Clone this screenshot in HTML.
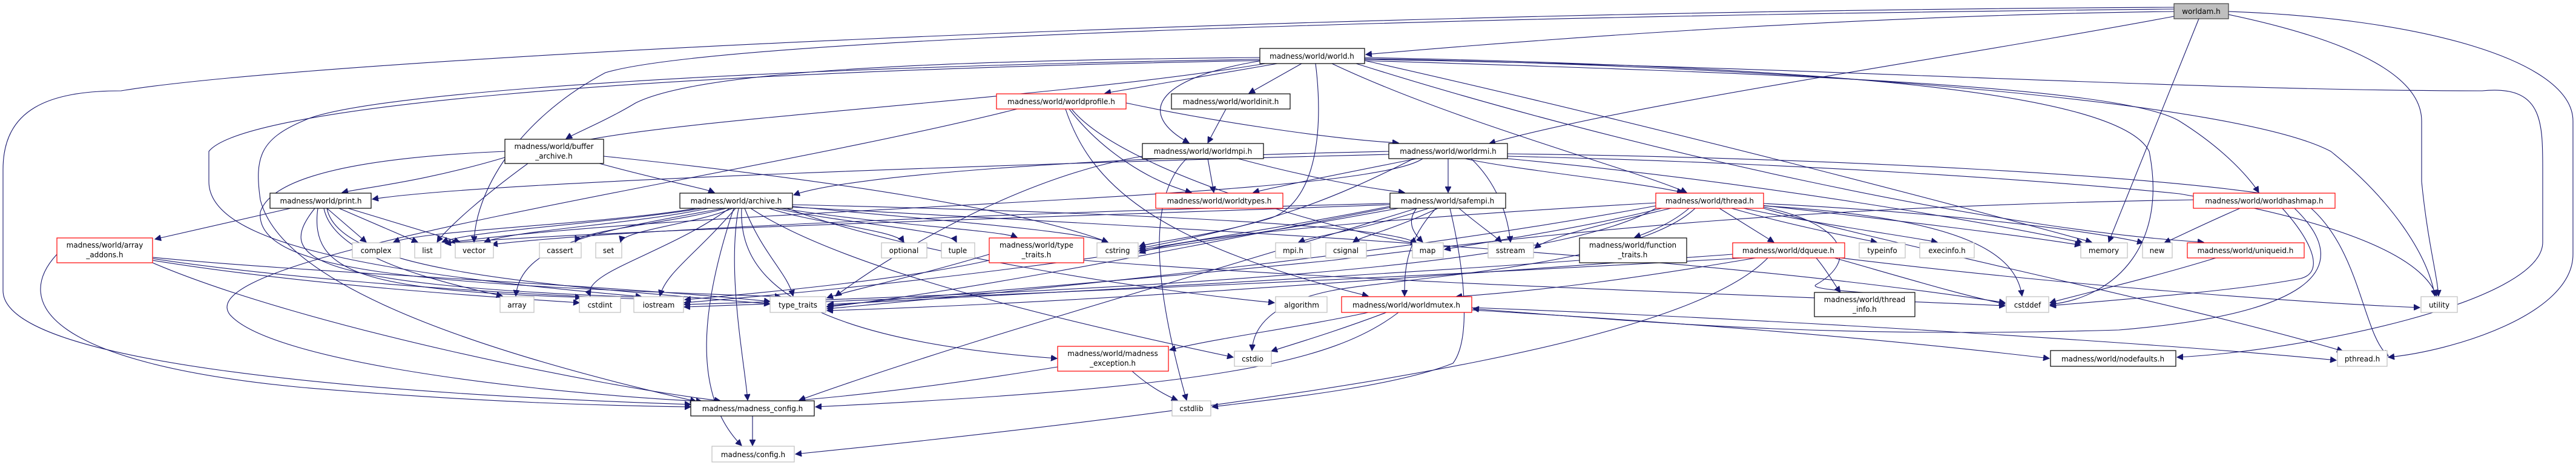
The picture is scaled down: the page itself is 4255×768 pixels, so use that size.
<!DOCTYPE html>
<html><head><meta charset="utf-8">
<style>
html,body{margin:0;padding:0;background:#fff;}
svg{display:block;}
text{font-family:"DejaVu Sans","Liberation Sans",sans-serif;font-size:12px;fill:#000;text-anchor:middle;}
.e path{fill:none;stroke:#191970;stroke-width:1.1;}
.b{fill:#fff;stroke:#000;stroke-width:1.2}
.r{fill:#fff;stroke:#ff0000;stroke-width:1.2}
.g{fill:#fff;stroke:#bfbfbf;stroke-width:1.2}
</style></head><body>
<svg width="4255" height="768" viewBox="0 0 4255 768" xmlns="http://www.w3.org/2000/svg">
<defs><marker id="a" markerUnits="userSpaceOnUse" markerWidth="11" markerHeight="10" refX="10" refY="5" orient="auto"><path d="M0,0 L10,5 L0,10 z" fill="#191970" stroke="#191970"/></marker></defs>
<g class="e" marker-end="url(#a)">
<!-- worldam -->
<path d="M3591,19 C3100,25 2600,60 2256,90"/>
<path d="M3591,27 C3200,100 2700,170 2460,237"/>
<path d="M3632,31 L3483,400"/>
<path d="M3681,24 C3900,70 4000,130 4000,200 L4000,300 C4010,400 4025,450 4028,489"/>
<path d="M3681,19 C4000,30 4250,100 4250,200 L4250,420 C4250,520 4050,580 3945,590"/>
<path d="M3591,15 C2500,25 1200,60 1000,120 C850,200 785,320 783,400"/>
<path d="M3591,12 C2000,20 500,100 200,150 C80,150 5,180 5,280 L5,480 C5,600 600,650 1141,668"/>
<!-- world -->
<path d="M2110,105 L1825,154"/>
<path d="M2150,105 L2063,154"/>
<path d="M2085,100 C1900,130 1880,190 1964,236"/>
<path d="M2200,105 C2400,200 2700,280 2786,318"/>
<path d="M2250,100 C2900,120 3500,140 3600,200 C3680,250 3720,300 3731,318"/>
<path d="M2173,105 C2185,200 2180,330 2100,360 C2000,390 1900,400 1882,407"/>
<path d="M2081,95 C1500,100 1150,120 1050,170 C1000,200 950,220 935,229"/>
<path d="M2081,100 C1000,120 400,180 345,250 L345,300 C345,400 600,450 1060,490"/>
<path d="M2090,105 C1700,170 1000,200 900,250 C800,320 735,380 722,400"/>
<path d="M2081,98 C1300,110 600,150 500,200 C430,230 420,260 430,330 C460,450 700,560 1150,663"/>
<path d="M2254,95 C3000,110 3500,150 3550,250 C3580,400 3500,490 3386,503"/>
<path d="M2254,97 C3000,110 3700,170 3850,250 C3950,330 4010,420 4022,489"/>
<path d="M2254,98 C3000,110 3600,150 4100,150 C4200,140 4200,200 4200,280 L4200,400 C4200,500 3800,580 3596,590"/>
<path d="M2254,100 C2700,200 3200,330 3455,400"/>
<path d="M2240,105 C2700,250 3300,380 3640,400"/>
<!-- profile -->
<path d="M1860,170 C2000,200 2200,230 2310,236"/>
<path d="M1766,180 C1820,250 1900,300 1968,318"/>
<path d="M1760,180 C1800,300 1900,400 2260,489"/>
<path d="M1680,180 C1200,300 300,420 380,520 C450,600 900,650 1160,663"/>
<path d="M1770,180 C1850,280 2200,380 2340,402"/>
<!-- init, mpi -->
<path d="M2025,180 L1995,236"/>
<path d="M1995,262 L2005,318"/>
<path d="M2045,262 C2150,290 2250,310 2320,318"/>
<path d="M1960,262 C1900,320 1900,450 1960,661"/>
<path d="M1887,258 C1700,290 1500,400 1380,489"/>
<!-- rmi -->
<path d="M2392,262 L2392,318"/>
<path d="M2340,262 C2200,290 2100,310 2070,318"/>
<path d="M2420,262 C2500,280 2700,300 2780,318"/>
<path d="M2294,250 C1800,260 1400,290 1311,322"/>
<path d="M2294,255 C1700,270 800,300 615,329"/>
<path d="M2430,262 C2470,300 2490,350 2495,400"/>
<path d="M2335,262 C2200,330 2100,370 1882,410"/>
<path d="M2490,258 C3000,270 3400,300 3600,320 C3950,380 4010,450 4025,489"/>
<path d="M2490,254 C3000,260 3600,290 3800,330 C3900,400 3900,550 3945,588"/>
<path d="M2490,262 C2900,300 3300,370 3440,401"/>
<path d="M2350,262 C2250,330 1200,340 745,400"/>
<!-- buffer_archive -->
<path d="M834,260 C700,300 600,310 565,318"/>
<path d="M990,270 C1100,300 1160,310 1180,318"/>
<path d="M997,258 C1400,300 1700,350 1830,400"/>
<path d="M834,250 C600,260 450,290 430,350 C420,450 700,470 1290,490"/>
<!-- print -->
<path d="M480,344 L256,395"/>
<path d="M540,344 L605,400"/>
<path d="M560,344 L690,400"/>
<path d="M575,344 L760,400"/>
<path d="M520,344 C460,420 480,470 1060,491"/>
<path d="M525,344 C510,450 600,480 960,491"/>
<path d="M535,344 C550,420 700,460 830,489"/>
<path d="M540,344 C560,450 900,470 1272,502"/>
<!-- array_addons -->
<path d="M94,420 C20,500 80,600 500,640 C800,665 1000,670 1141,672"/>
<path d="M252,434 C500,540 1000,640 1190,662"/>
<path d="M252,427 C400,450 700,480 1062,494"/>
<path d="M252,430 C500,470 800,490 957,500"/>
<path d="M252,425 C500,450 1000,470 1272,498"/>
<!-- archive -->
<path d="M1150,344 C1000,370 700,380 650,400"/>
<path d="M1160,344 C1000,370 780,380 730,400"/>
<path d="M1170,344 C1050,370 850,380 800,400"/>
<path d="M1200,344 C1100,370 960,380 950,400"/>
<path d="M1210,344 C1150,370 1030,380 1025,400"/>
<path d="M1270,344 C1350,370 1480,380 1493,400"/>
<path d="M1280,344 C1400,370 1570,380 1580,400"/>
<path d="M1290,344 C1450,370 1650,380 1680,392"/>
<path d="M1300,340 C1500,360 1780,380 1830,400"/>
<path d="M1309,338 C1800,350 2300,370 2340,402"/>
<path d="M1195,344 C1000,380 860,400 852,489"/>
<path d="M1205,344 C1100,420 960,450 975,489"/>
<path d="M1215,344 C1150,420 1100,450 1090,489"/>
<path d="M1230,344 C1260,420 1300,450 1310,489"/>
<path d="M1220,344 C1200,450 1230,600 1235,661"/>
<path d="M1212,344 C1160,500 1140,650 1225,736"/>
<path d="M1225,344 C1220,450 1300,560 1746,592"/>
<path d="M1240,344 C1400,450 1800,540 2037,590"/>
<path d="M1309,342 C2000,380 2800,420 3312,500"/>
<path d="M1300,344 C1500,420 1900,480 2105,500"/>
<!-- safempi -->
<path d="M2300,340 C2100,380 1950,400 1882,413"/>
<path d="M2360,344 C2250,380 2170,390 2145,400"/>
<path d="M2375,344 C2300,380 2250,390 2235,400"/>
<path d="M2340,344 C2320,370 2340,390 2350,400"/>
<path d="M2410,344 C2440,370 2470,390 2480,400"/>
<path d="M2372,344 C2320,400 2320,450 2320,489"/>
<path d="M2395,344 C2420,450 2430,560 2400,600 C2300,640 2100,660 2002,672"/>
<path d="M2340,344 C2000,450 1600,560 1320,661"/>
<path d="M2310,344 C1900,420 1500,470 1130,500"/>
<path d="M2300,342 C1900,420 1600,480 1366,507"/>
<path d="M2296,338 C1700,360 1000,380 735,402"/>
<path d="M2296,336 C1700,350 1000,380 812,404"/>
<!-- thread -->
<path d="M2840,344 L2930,400"/>
<path d="M2860,344 C2950,370 3050,390 3100,400"/>
<path d="M2880,344 C3000,370 3150,390 3200,400"/>
<path d="M2900,338 C3100,360 3350,390 3437,405"/>
<path d="M2910,336 C3200,350 3450,380 3540,401"/>
<path d="M2790,344 C2760,370 2720,385 2700,392"/>
<path d="M2913,340 C3250,360 3330,420 3340,489"/>
<path d="M2913,342 C3050,370 3070,430 3000,470 C2980,480 3130,485 3163,490"/>
<path d="M2913,344 C3100,400 3600,500 3870,580"/>
<path d="M2760,344 C2650,370 2560,390 2535,410"/>
<path d="M2745,344 C2600,380 2450,400 2386,412"/>
<path d="M2735,335 C2300,360 1950,390 1882,418"/>
<path d="M2735,340 C2300,420 1800,470 1366,510"/>
<path d="M2735,344 C2600,420 2200,470 1130,503"/>
<path d="M2800,344 C2700,440 2300,460 2200,480 C2100,500 2070,540 2068,579"/>
<!-- hashmap -->
<path d="M3700,344 C3640,370 3600,390 3575,401"/>
<path d="M3770,344 C3820,400 3840,450 3800,460 C3700,480 3500,495 3386,505"/>
<path d="M3623,330 C3000,340 2600,380 2200,430 C1800,470 1500,490 1366,506"/>
<path d="M3790,344 C3900,450 3800,520 3500,545 C3000,560 2700,530 2433,510"/>
<!-- dqueue -->
<path d="M2900,426 C2700,460 2550,480 2405,490"/>
<path d="M3000,426 C3020,450 3030,470 3040,483"/>
<path d="M3030,426 C3150,460 3250,490 3312,502"/>
<path d="M3040,426 C3400,470 3800,500 3997,508"/>
<path d="M2862,420 C2300,460 1800,500 1366,513"/>
<path d="M2880,426 C2300,460 1600,490 1130,507"/>
<path d="M2920,426 C2800,550 2300,650 1314,750"/>
<!-- uniqueid -->
<path d="M3660,426 C3550,460 3420,490 3386,500"/>
<!-- worldmutex -->
<path d="M2260,516 C2150,540 2000,560 1932,578"/>
<path d="M2290,516 C2200,550 2130,570 2100,580"/>
<path d="M2310,516 C2200,600 2000,640 1347,672"/>
<path d="M2431,508 C3000,530 3600,570 3859,595"/>
<path d="M2431,512 C2900,540 3200,570 3385,592"/>
<!-- madness_exception -->
<path d="M1870,613 C1900,640 1930,655 1945,661"/>
<path d="M1747,606 C1600,630 1450,650 1320,661"/>
<!-- config -->
<path d="M1243,687 L1243,736"/>
<!-- type_traits.h -->
<path d="M1634,420 C1500,460 1400,480 1366,492"/>
<path d="M1790,430 C2300,470 3000,490 3312,505"/>
<path d="M1634,430 C1500,460 1300,480 1131,495"/>
<!-- function_traits -->
<path d="M2609,430 C2200,460 1600,490 1367,503"/>
</g>
<!-- nodes -->
<rect x="3591" y="6" width="90" height="25" fill="#bfbfbf" stroke="#404040" stroke-width="1.2"/><text x="3636" y="23">worldam.h</text>
<rect class="b" x="2081" y="80" width="173" height="25"/><text x="2167" y="97">madness/world/world.h</text>
<rect class="r" x="1646" y="155" width="214" height="25"/><text x="1753" y="172">madness/world/worldprofile.h</text>
<rect class="b" x="1935" y="155" width="196" height="25"/><text x="2033" y="172">madness/world/worldinit.h</text>
<rect class="b" x="1887" y="237" width="200" height="25"/><text x="1987" y="254">madness/world/worldmpi.h</text>
<rect class="b" x="2294" y="237" width="196" height="25"/><text x="2392" y="254">madness/world/worldrmi.h</text>
<rect class="b" x="834" y="230" width="163" height="40"/><text x="915" y="246">madness/world/buffer</text><text x="915" y="262">_archive.h</text>
<rect class="b" x="446" y="319" width="167" height="25"/><text x="530" y="336">madness/world/print.h</text>
<rect class="b" x="1123" y="319" width="186" height="25"/><text x="1216" y="336">madness/world/archive.h</text>
<rect class="r" x="1909" y="319" width="210" height="25"/><text x="2014" y="336">madness/world/worldtypes.h</text>
<rect class="b" x="2296" y="319" width="191" height="25"/><text x="2391" y="336">madness/world/safempi.h</text>
<rect class="r" x="2735" y="319" width="178" height="25"/><text x="2824" y="336">madness/world/thread.h</text>
<rect class="r" x="3623" y="319" width="234" height="25"/><text x="3740" y="336">madness/world/worldhashmap.h</text>
<rect class="r" x="94" y="393" width="158" height="41"/><text x="173" y="409">madness/world/array</text><text x="173" y="425">_addons.h</text>
<rect class="g" x="582" y="401" width="79" height="25"/><text x="621" y="418">complex</text>
<rect class="g" x="685" y="401" width="43" height="25"/><text x="706" y="418">list</text>
<rect class="g" x="752" y="401" width="63" height="25"/><text x="783" y="418">vector</text>
<rect class="g" x="891" y="401" width="69" height="25"/><text x="925" y="418">cassert</text>
<rect class="g" x="984" y="401" width="43" height="25"/><text x="1005" y="418">set</text>
<rect class="g" x="1456" y="401" width="75" height="25"/><text x="1493" y="418">optional</text>
<rect class="g" x="1555" y="401" width="55" height="25"/><text x="1582" y="418">tuple</text>
<rect class="r" x="1634" y="393" width="156" height="41"/><text x="1712" y="409">madness/world/type</text><text x="1712" y="425">_traits.h</text>
<rect class="g" x="1812" y="401" width="68" height="25"/><text x="1846" y="418">cstring</text>
<rect class="g" x="2107" y="401" width="58" height="25"/><text x="2136" y="418">mpi.h</text>
<rect class="g" x="2190" y="401" width="67" height="25"/><text x="2223" y="418">csignal</text>
<rect class="g" x="2333" y="401" width="51" height="25"/><text x="2358" y="418">map</text>
<rect class="g" x="2458" y="401" width="75" height="25"/><text x="2495" y="418">sstream</text>
<rect class="b" x="2609" y="393" width="177" height="41"/><text x="2697" y="409">madness/world/function</text><text x="2697" y="425">_traits.h</text>
<rect class="r" x="2862" y="401" width="185" height="25"/><text x="2954" y="418">madness/world/dqueue.h</text>
<rect class="g" x="3071" y="401" width="76" height="25"/><text x="3109" y="418">typeinfo</text>
<rect class="g" x="3171" y="401" width="90" height="25"/><text x="3216" y="418">execinfo.h</text>
<rect class="g" x="3437" y="401" width="77" height="25"/><text x="3475" y="418">memory</text>
<rect class="g" x="3539" y="401" width="49" height="25"/><text x="3563" y="418">new</text>
<rect class="r" x="3613" y="401" width="193" height="25"/><text x="3709" y="418">madness/world/uniqueid.h</text>
<rect class="g" x="826" y="490" width="56" height="26"/><text x="854" y="508">array</text>
<rect class="g" x="957" y="490" width="68" height="26"/><text x="991" y="508">cstdint</text>
<rect class="g" x="1047" y="490" width="82" height="26"/><text x="1088" y="508">iostream</text>
<rect class="g" x="1272" y="490" width="92" height="26"/><text x="1318" y="508">type_traits</text>
<rect class="g" x="2107" y="490" width="85" height="26"/><text x="2150" y="508">algorithm</text>
<rect class="r" x="2216" y="490" width="215" height="26"/><text x="2323" y="508">madness/world/worldmutex.h</text>
<rect class="b" x="2997" y="483" width="166" height="40"/><text x="3080" y="499">madness/world/thread</text><text x="3080" y="515">_info.h</text>
<rect class="g" x="3314" y="490" width="70" height="26"/><text x="3349" y="508">cstddef</text>
<rect class="g" x="3999" y="490" width="60" height="26"/><text x="4029" y="508">utility</text>
<rect class="r" x="1747" y="572" width="183" height="41"/><text x="1838" y="588">madness/world/madness</text><text x="1838" y="604">_exception.h</text>
<rect class="g" x="2039" y="580" width="61" height="25"/><text x="2069" y="597">cstdio</text>
<rect class="b" x="3387" y="579" width="207" height="26"/><text x="3490" y="597">madness/world/nodefaults.h</text>
<rect class="g" x="3861" y="579" width="82" height="26"/><text x="3902" y="597">pthread.h</text>
<rect class="b" x="1141" y="662" width="204" height="25"/><text x="1243" y="679">madness/madness_config.h</text>
<rect class="g" x="1936" y="662" width="64" height="25"/><text x="1968" y="679">cstdlib</text>
<rect class="g" x="1176" y="737" width="136" height="26"/><text x="1244" y="755">madness/config.h</text>
</svg>
</body></html>
